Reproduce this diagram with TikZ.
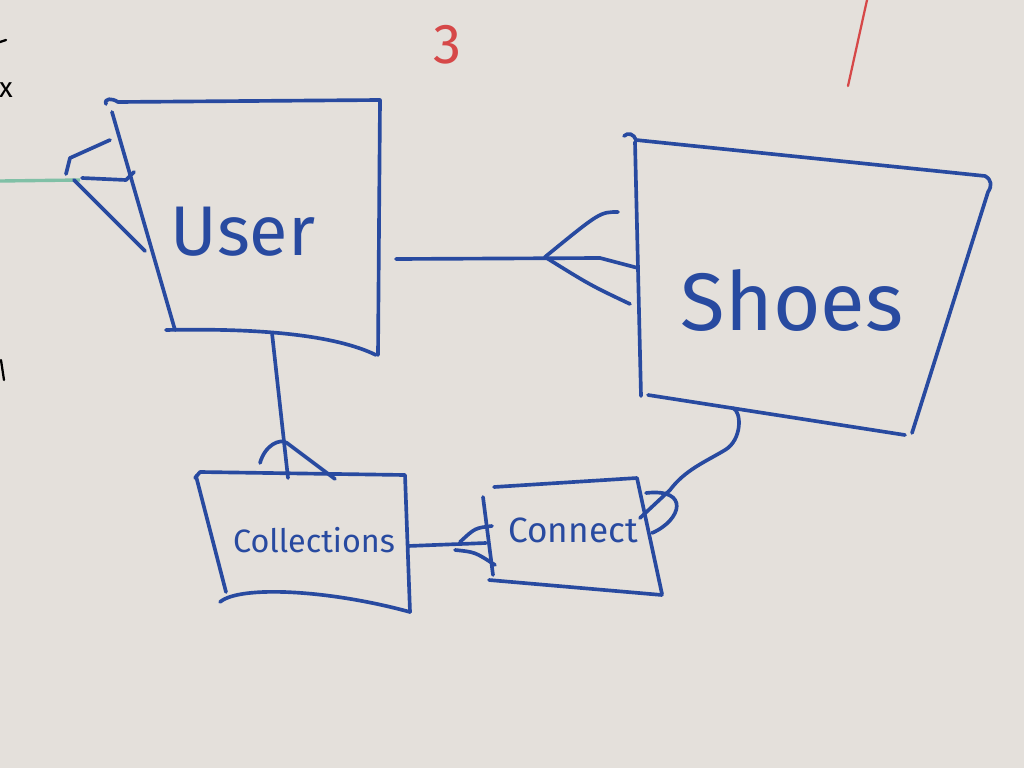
\documentclass[tikz,border=0pt]{standalone}
\usepackage{fontspec}
\setsansfont{Fira Sans}
\usetikzlibrary{positioning}
\definecolor{board}{RGB}{228,224,219}
\definecolor{ink}{RGB}{40,74,160}
\definecolor{redink}{RGB}{214,72,72}
\definecolor{greenink}{RGB}{128,192,166}
\begin{document}
\begin{tikzpicture}[x=0.025cm,y=-0.025cm,
  marker/.style={ink, line width=2.6pt, line cap=round, line join=round},
  entity/.style={ink, font=\sffamily}]

  \fill[board] (0,0) rectangle (1024,768);
  \useasboundingbox (0,0) rectangle (1024,768);

  % marks left over on the board
  \draw[redink, line width=1.6pt, line cap=round] (867,0) -- (848,86);
  \node[redink, font=\sffamily\fontsize{40}{40}\selectfont] (three) at (448,45) {3};
  \draw[black, line width=1.6pt, line cap=round] (0,42) -- (6,40);
  \node[black, font=\sffamily\fontsize{20}{20}\selectfont] (ex) at (6,90) {x};
  \draw[black, line width=1.6pt, line cap=round] (1,360) -- (4,380);

  % entities
  \node[entity, font=\sffamily\fontsize{50}{50}\selectfont] (user) at (243,232) {User};
  \node[entity, font=\sffamily\fontsize{58}{58}\selectfont] (shoes) at (792,300) {Shoes};
  \node[entity, font=\sffamily\fontsize{23}{23}\selectfont] (coll) at (314,540) {Collections};
  \node[entity, font=\sffamily\fontsize{25}{25}\selectfont] (conn) at (573,530) {Connect};

  % box outlines
  \draw[marker] (106,104) .. controls (104,98) and (112,98) .. (118,102) -- (380,100) -- (378,355);
  \draw[marker] (112,112) -- (175,330);
  \draw[marker] (166,330) .. controls (260,328) and (335,335) .. (376,355);

  \draw[marker] (624,136) .. controls (628,132) and (634,134) .. (636,140) -- (985,176) .. controls (992,180) and (992,186) .. (988,192) -- (912,433);
  \draw[marker] (635,142) -- (641,396);
  \draw[marker] (648,395) -- (905,435);

  \draw[marker] (195,478) -- (200,472) -- (405,475) -- (410,612);
  \draw[marker] (196,476) -- (226,592);
  \draw[marker] (220,602) .. controls (240,585) and (330,590) .. (410,612);

  \draw[marker] (494,487) -- (637,478) -- (662,594);
  \draw[marker] (489,580) -- (662,595);
  \draw[marker] (483,497) -- (493,575);

  % connector end points
  \coordinate (u-e) at (396,259);
  \coordinate (s-w) at (638,268);
  \coordinate (u-s) at (272,333);
  \coordinate (c-n) at (288,478);
  \coordinate (c-e) at (408,546);
  \coordinate (k-w) at (486,543);
  \coordinate (s-s) at (733,408);
  \coordinate (k-e) at (640,518);
  \coordinate (w-in) at (0,181);

  % User -- Shoes, many at Shoes
  \draw[marker] (u-e) -- (600,258) -- (s-w);
  \draw[marker] (618,212) .. controls (600,212) .. (545,257) .. controls (590,285) .. (630,304);

  % User -- Collections, many at Collections
  \draw[marker] (u-s) -- (c-n);
  \draw[marker] (260,463) .. controls (265,445) and (280,438) .. (287,443) -- (335,479);

  % Collections -- Connect, many at Connect
  \draw[marker] (c-e) -- (k-w);
  \draw[marker] (492,526) .. controls (475,528) .. (460,542);
  \draw[marker] (455,550) .. controls (475,552) .. (495,565);

  % Shoes -- Connect, many at Connect
  \draw[marker] (s-s) .. controls (742,412) and (742,440) .. (725,450) .. controls (705,462) and (685,470) .. (670,490) -- (k-e);
  \draw[marker] (646,493) .. controls (690,488) and (682,520) .. (652,533);

  % link off to the left
  \draw[greenink, line width=2.4pt] (w-in) -- (80,180);
  \draw[marker] (110,140) -- (70,158) -- (66,174);
  \draw[marker] (82,178) -- (126,180) -- (134,172);
  \draw[marker] (74,180) -- (145,251);

\end{tikzpicture}
\end{document}
